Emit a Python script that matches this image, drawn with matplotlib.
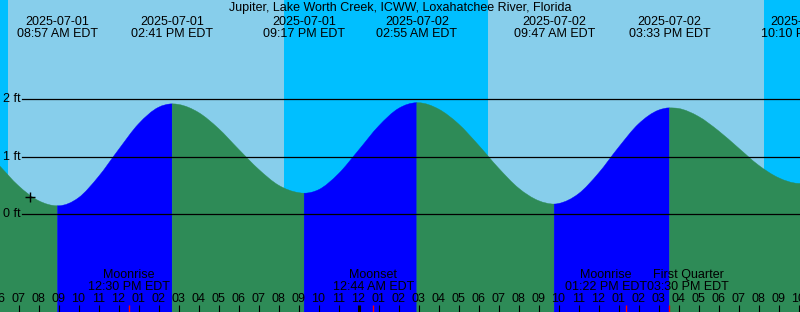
import numpy as np
import pandas as pd
import matplotlib
matplotlib.use("Agg")
import matplotlib.pyplot as plt
import matplotlib.dates as mdates
import matplotlib.transforms as mtransforms
from matplotlib.path import Path
from matplotlib.patches import PathPatch

plt.rcParams['font.family'] = ['Liberation Sans', 'DejaVu Sans']
plt.rcParams['font.size'] = 9

title = "Jupiter, Lake Worth Creek, ICWW, Loxahatchee River, Florida"

# high / low tides
ext_times = ["2025-07-01 08:57", "2025-07-01 14:41", "2025-07-01 21:17",
             "2025-07-02 02:55", "2025-07-02 09:47", "2025-07-02 15:33",
             "2025-07-02 22:10"]
ext_labels = ["08:57 AM EDT", "02:41 PM EDT", "09:17 PM EDT", "02:55 AM EDT",
              "09:47 AM EDT", "03:33 PM EDT", "10:10 PM EDT"]
ext_kind = ["low", "high", "low", "high", "low", "high", "low"]
ext_ft = [0.14, 1.92, 0.36, 1.94, 0.17, 1.85, 0.53]

# water level on the hour, 06:00 Jul 1 .. 23:00 Jul 2 (ft)
hour_ft = [0.86, 0.49, 0.23, 0.14, 0.28, 0.65, 1.12, 1.57, 1.86, 1.91,
           1.77, 1.49, 1.13, 0.78, 0.50, 0.37, 0.42, 0.70, 1.11, 1.53,
           1.84, 1.94, 1.83, 1.57, 1.20, 0.80, 0.45, 0.23, 0.18, 0.35,
           0.71, 1.16, 1.57, 1.81, 1.84, 1.70, 1.45, 1.15, 0.85, 0.63,
           0.53, 0.55]

sun_times = ["2025-07-01 06:29", "2025-07-01 20:17",
             "2025-07-02 06:29", "2025-07-02 20:17"]

moon_times = ["2025-07-01 12:30", "2025-07-02 00:44",
              "2025-07-02 13:22", "2025-07-02 15:30"]
moon_names = ["Moonrise", "Moonset", "Moonrise", "First Quarter"]
moon_labels = ["12:30 PM EDT", "12:44 AM EDT", "01:22 PM EDT", "03:30 PM EDT"]

mark_time = "2025-07-01 07:35"
mark_ft = 0.29

ft_levels = [0, 1, 2]

# colours
day_c = "#87CEEB"
night_c = "#00BFFF"
fall_c = "#2E8B57"
rise_c = "#0000FF"

W, H = 800, 312
t0 = mdates.date2num(pd.Timestamp("2025-07-01 06:04:30"))
t1 = mdates.date2num(pd.Timestamp("2025-07-02 22:04:30"))
ybot, ytop = -1.715, 3.734

fig = plt.figure(figsize=(W / 100, H / 100), dpi=100)
ax = fig.add_axes([0, 0, 1, 1])
ax.set_xlim(t0, t1)
ax.set_ylim(ybot, ytop)
ax.axis('off')

tr = mtransforms.blended_transform_factory(ax.transData, ax.transAxes)
def ypx(p):
    return 1 - p / H

# day / night
ax.axvspan(t0, t1, color=day_c, lw=0, zorder=0)
sun = mdates.date2num(pd.to_datetime(sun_times))
ax.axvspan(t0, sun[0], color=night_c, lw=0, zorder=0)
ax.axvspan(sun[1], sun[2], color=night_c, lw=0, zorder=0)
ax.axvspan(sun[3], t1, color=night_c, lw=0, zorder=0)

# tide curve: readings + extremes, drawn as a smooth bezier path
hours = pd.date_range("2025-07-01 06:00", periods=len(hour_ft), freq="h")
ext_t = pd.to_datetime(ext_times)
curve = pd.concat([pd.Series(hour_ft, index=hours), pd.Series(ext_ft, index=ext_t)])
curve = curve[~curve.index.duplicated(keep='last')].sort_index()
ct = mdates.date2num(curve.index)
ch = curve.values
ext_n = mdates.date2num(ext_t)

slope = np.gradient(ch, ct)
slope[np.isin(ct, ext_n)] = 0.0

bounds = [ct[0]] + list(ext_n) + [ct[-1]]
for j in range(len(bounds) - 1):
    idx = np.where((ct >= bounds[j]) & (ct <= bounds[j + 1]))[0]
    if j < len(ext_kind):
        falling = ext_kind[j] == "low"
    else:
        falling = ext_kind[-1] == "high"
    c = fall_c if falling else rise_c
    verts = [(ct[idx[0]], ybot), (ct[idx[0]], ch[idx[0]])]
    codes = [Path.MOVETO, Path.LINETO]
    for a, b in zip(idx[:-1], idx[1:]):
        dt = ct[b] - ct[a]
        verts += [(ct[a] + dt / 3, ch[a] + slope[a] * dt / 3),
                  (ct[b] - dt / 3, ch[b] - slope[b] * dt / 3),
                  (ct[b], ch[b])]
        codes += [Path.CURVE4] * 3
    verts += [(ct[idx[-1]], ybot), (ct[idx[0]], ybot)]
    codes += [Path.LINETO, Path.CLOSEPOLY]
    ax.add_patch(PathPatch(Path(verts, codes), fc=c, ec=c, lw=0.3, zorder=1))

# ft lines
for lv in ft_levels:
    ax.axhline(lv, xmin=22 / W, xmax=1, color='black', lw=0.9, zorder=3)
    ax.text(3 / W, lv, f"{lv} ft", transform=ax.get_yaxis_transform(),
            ha='left', va='center', zorder=4)

ax.plot(mdates.date2num(pd.Timestamp(mark_time)), mark_ft, marker='+',
        color='black', ms=7, mew=1.0, zorder=5)

# top labels
fig.text(0.5, ypx(11.5), title, ha='center', va='baseline')
for t, lab in zip(ext_t, ext_labels):
    x = mdates.date2num(t)
    ax.text(x, ypx(25), t.strftime("%Y-%m-%d"), transform=tr, ha='center', va='baseline')
    ax.text(x, ypx(36.7), lab, transform=tr, ha='center', va='baseline')

# hour ticks and labels
ticks = pd.date_range("2025-07-01 06:00", "2025-07-02 23:00", freq="h")
for t in ticks:
    x = mdates.date2num(t)
    lw = 2.2 if t.hour == 0 else 0.8
    ax.plot([x, x], [0, 7 / H], transform=tr, color='black', lw=lw,
            solid_capstyle='butt', zorder=6)
    ax.text(x, ypx(301.7), t.strftime("%I"), transform=tr, ha='center', va='baseline')

# moon events
moon_n = mdates.date2num(pd.to_datetime(moon_times))
align = ["center"] * len(moon_n)
anchor = list(moon_n)
for i in range(len(moon_n) - 1):
    if (moon_n[i + 1] - moon_n[i]) * 24 < 4:
        mid = (moon_n[i] + moon_n[i + 1]) / 2
        anchor[i], anchor[i + 1] = mid, mid
        align[i], align[i + 1] = "right", "left"
for x, ax_x, a, nm, lab in zip(moon_n, anchor, align, moon_names, moon_labels):
    ax.plot([x, x], [0, 7 / H], transform=tr, color='red', lw=1.0,
            solid_capstyle='butt', zorder=7)
    ax.text(ax_x, ypx(290), nm + "\n" + lab, transform=tr, ha=a, va='baseline',
            multialignment='center', linespacing=0.95, zorder=7)

fig.savefig("out.png", dpi=100)
